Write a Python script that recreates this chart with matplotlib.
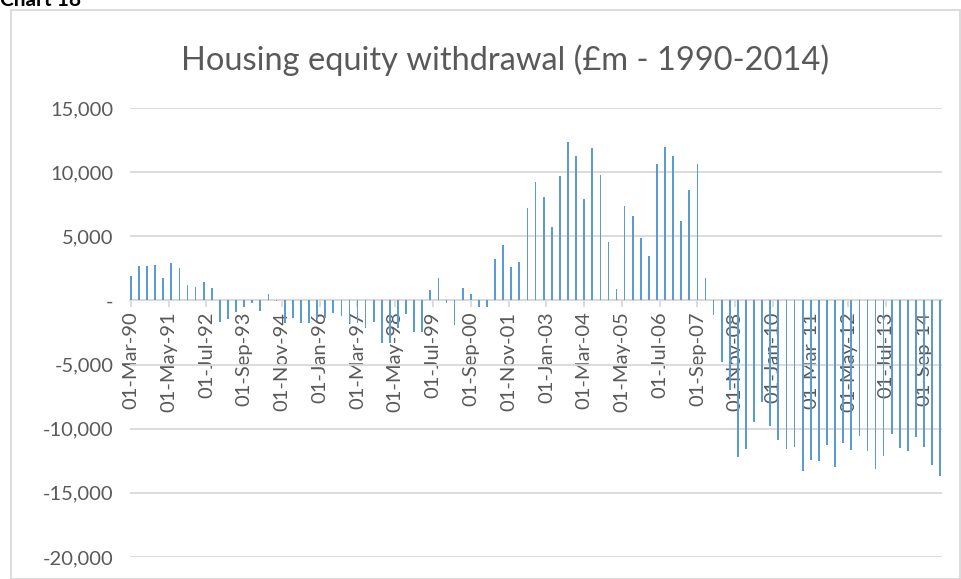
import pandas as pd
import matplotlib
matplotlib.use("Agg")
import matplotlib.pyplot as plt
import matplotlib.dates as mdates
from matplotlib.patches import Rectangle
from matplotlib.ticker import FuncFormatter

# quarterly housing equity withdrawal, £m, Mar-90 .. Mar-15
quarters = pd.date_range("1990-03-01", periods=101, freq="3MS")
hew = [
    1900, 2680, 2680, 2730, 1770, 2930, 2550, 1240, 1060, 1420,
    990, -1720, -1440, -920, -480, -200, -850, 530, -60, -1750,
    -1350, -1750, -1750, -1480, -1350, -960, -1220, -1750, -1750, -2130,
    -1690, -3350, -3280, -2150, -1050, -2480, -2430, 810, 1770, -180,
    -1900, 1000, 540, -510, -510, 3240, 4330, 2640, 3000, 7180,
    9210, 8090, 5720, 9710, 12370, 11250, 7880, 11880, 9760, 4520,
    910, 7330, 6550, 4830, 3500, 10600, 11950, 11220, 6160, 8610,
    10620, 1750, -1150, -4800, -7000, -12240, -11590, -9450, -7920, -9800,
    -10910, -11590, -11430, -13260, -12470, -12520, -11280, -13000, -11120, -11640,
    -10600, -11770, -13120, -12110, -10440, -11510, -11770, -10680, -11460, -12810,
    -13670,
]
label_dates = pd.date_range("1990-03-01", "2014-09-01", freq="14MS")
y_ticks = [15000, 10000, 5000, 0, -5000, -10000, -15000, -20000]

grey = "#595959"
fig = plt.figure(figsize=(9.61, 5.79), dpi=100)
ax = fig.add_axes([130 / 961, 1 - 557 / 579, (942 - 130) / 961, (557 - 108) / 579])

ax.bar(quarters, hew, width=20, color="#5B9BD5", linewidth=0, zorder=3)

ax.set_ylim(-20000, 15000)
ax.set_yticks(y_ticks)
ax.yaxis.set_major_formatter(FuncFormatter(lambda v, p: "-" if v == 0 else f"{v:,.0f}"))
ax.grid(axis="y", color="#D9D9D9", linewidth=1.3, zorder=0)
ax.tick_params(axis="y", length=0, labelsize=14.5, labelcolor=grey, pad=12)

ax.set_xlim(pd.Timestamp("1990-02-20"), pd.Timestamp("2015-03-22"))
ax.set_xticks(label_dates)
ax.xaxis.set_major_formatter(mdates.DateFormatter("%d-%b-%y"))
ax.tick_params(axis="x", rotation=90, labelsize=14.5, labelcolor=grey,
               color="#D9D9D9", length=5, width=1.3, direction="out", pad=3)

for s in ["top", "right", "left"]:
    ax.spines[s].set_visible(False)
ax.spines["bottom"].set_position(("data", 0))
ax.spines["bottom"].set_color("#D9D9D9")
ax.spines["bottom"].set_linewidth(1.3)
ax.spines["bottom"].set_zorder(2)

for t in ax.get_xticklabels() + ax.get_yticklabels():
    t.set_family("Lato")

fig.text(0.526, 1 - 60 / 579, "Housing equity withdrawal (£m - 1990-2014)",
         ha="center", va="center", fontsize=23.5, color=grey, family="Lato")
fig.text(0.0, 1 - 6 / 579, "Chart 18", ha="left", va="baseline",
         fontsize=15, fontweight="bold", color="black", family="Lato")

fig.patches.append(Rectangle((11 / 961, 0), 1 - 12 / 961, 1 - 10 / 579,
                             transform=fig.transFigure, fill=False,
                             edgecolor="#D9D9D9", linewidth=1.3))

fig.savefig("out.png", dpi=100)
